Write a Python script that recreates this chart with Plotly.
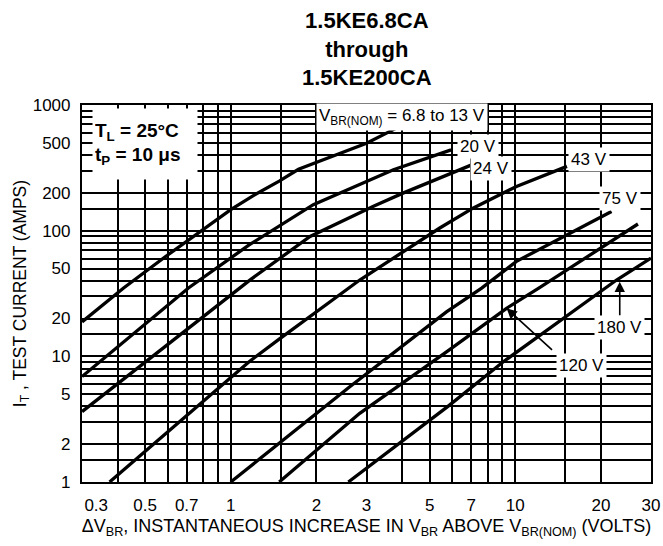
import math
import plotly.graph_objects as go

# ---------------- data ----------------
# Delta V_BR (volts) and test current I_T (amps) for each V_BR(NOM) family
dv_6p8_13 = [0.3, 0.42, 0.6, 1.0, 1.2, 1.48, 1.73, 3.0, 3.93]
it_6p8_13 = [18.8, 35, 64, 147, 190, 248, 308, 497, 676]

dv_20 = [0.3, 0.71, 1.16, 1.95, 3.73, 5.95]
it_20 = [6.9, 35, 77, 161, 305, 440]

dv_24 = [0.3, 1.17, 1.9, 3.16, 4.03, 5.89, 7.03]
it_24 = [3.63, 40.6, 90, 156, 199, 282, 334]

dv_43 = [0.375, 1.16, 1.48, 2.0, 2.84, 5.43, 7.1, 10.1, 15.2]
it_43 = [1, 9.06, 13.7, 22.6, 40.5, 105, 151, 225, 325]

dv_75 = [1.0, 2.62, 5.73, 7.62, 10.1, 21.8]
it_75 = [1, 5.73, 22.6, 34.9, 57, 142]

dv_120 = [1.48, 2.84, 5.75, 9.32, 12.1, 27]
it_120 = [1, 3.52, 10.9, 24.1, 34.9, 113]

dv_180 = [2.59, 5.8, 9.08, 15, 22.7, 30]
it_180 = [1, 4.0, 9.06, 20.7, 40.5, 60.5]

series_labels = ["6.8 to 13 V", "20 V", "24 V", "43 V", "75 V", "120 V", "180 V"]

# grid / tick values
x_major = [0.3, 0.5, 0.7, 1, 2, 3, 5, 7, 10, 20, 30]
x_major_text = ["\u00a0\u00a0\u00a0\u00a0\u00a0\u00a00.3", "0.5", "0.7", "1", "2", "3",
                "5", "7", "10", "20", "30"]
x_minor = [0.4, 0.6, 0.8, 0.9, 1.5, 4, 6, 8, 9, 15]
y_major = [1, 2, 5, 10, 20, 50, 100, 200, 500, 1000]
y_major_text = ["1", "2", "5", "10", "20", "50", "100", "200", "500", "1000"]
y_minor = [1.5, 3, 4, 6, 7, 8, 9, 15, 30, 40, 60, 70, 80, 90,
           150, 300, 400, 600, 700, 800, 900]

# ---------------- figure ----------------
FONT = "Liberation Sans, Arial, Helvetica, sans-serif"
fig = go.Figure()

curves = [(dv_6p8_13, it_6p8_13), (dv_20, it_20), (dv_24, it_24), (dv_43, it_43),
          (dv_75, it_75), (dv_120, it_120), (dv_180, it_180)]
for (xs, ys), name in zip(curves, series_labels):
    fig.add_trace(go.Scatter(x=xs, y=ys, mode="lines", name=name,
                             line=dict(color="black", width=3.3),
                             showlegend=False, hoverinfo="x+y+name"))

GRID_C, GRID_W = "#000", 1.5
EPS = 1e-4
axis_common = dict(
    type="log", showgrid=True, gridcolor=GRID_C, gridwidth=GRID_W,
    showline=True, linecolor="black", linewidth=2.2, mirror=True,
    ticks="", zeroline=False, tickmode="array", ticklabeloverflow="allow",
    tickfont=dict(family=FONT, size=17, color="black"),
)

fig.update_xaxes(
    **axis_common,
    range=[math.log10(0.3) - EPS, math.log10(30) + EPS],
    tickvals=x_major, ticktext=x_major_text,
    minor=dict(tickmode="array", tickvals=x_minor, showgrid=True,
               gridcolor=GRID_C, gridwidth=GRID_W, ticks=""),
    ticklabelstandoff=6,
    title=dict(text="\u0394V<sub>BR</sub>, INSTANTANEOUS INCREASE IN V<sub>BR</sub> ABOVE V<sub>BR(NOM)</sub> (VOLTS)",
               font=dict(family=FONT, size=18, color="black"), standoff=6),
)
fig.update_yaxes(
    **axis_common,
    range=[0 - EPS, 3 + EPS],
    tickvals=y_major, ticktext=y_major_text,
    minor=dict(tickmode="array", tickvals=y_minor, showgrid=True,
               gridcolor=GRID_C, gridwidth=GRID_W, ticks=""),
    ticklabelstandoff=6,
    title=dict(text="I<sub>T</sub> , TEST CURRENT (AMPS)",
               font=dict(family=FONT, size=17.5, color="black"), standoff=2),
)

W, H = 663, 546
L, R, T, B = 82, 12, 105, 64
PW, PH = W - L - R, H - T - B


def px_to_paper(px, py):
    return (px - L) / PW, (H - B - py) / PH


annotations = []
label_font = dict(family=FONT, size=17, color="black")

# title (three bold lines)
tx, ty = px_to_paper(366.5, 6)
annotations.append(dict(xref="paper", yref="paper", x=tx, y=ty, xanchor="center", yanchor="top",
                        showarrow=False,
                        text="<b>1.5KE6.8CA</b><br><b>through</b><br><b>1.5KE200CA</b>",
                        font=dict(family=FONT, size=22, color="black")))

# condition box
bx, by = px_to_paper(145, 144)
annotations.append(dict(xref="paper", yref="paper", x=bx, y=by, xanchor="center", yanchor="middle",
                        showarrow=False,
                        text="<b>T<sub>L</sub> = 25\u00b0C</b><br><b>t<sub>P</sub> = 10 \u03bcs</b>",
                        align="left", bgcolor="white", width=100, height=66, borderpad=2,
                        font=dict(family=FONT, size=19, color="black")))

# series labels
label_pos = [
    ("V<sub>BR(NOM)</sub> = 6.8 to 13 V", 402, 117),
    ("20 V", 478, 146),
    ("24 V", 491, 168.5),
    ("43 V", 589, 159),
    ("75 V", 620, 198),
    ("180 V", 619, 327),
    ("120 V", 581, 365),
]
for txt, px, py in label_pos:
    ax_, ay_ = px_to_paper(px, py)
    annotations.append(dict(xref="paper", yref="paper", x=ax_, y=ay_,
                            xanchor="center", yanchor="middle", showarrow=False,
                            text=txt, bgcolor="white", borderpad=2, font=label_font))

# arrows pointing to the 120 V and 180 V curves (tips on the curves)
annotations.append(dict(xref="x", yref="y", x=math.log10(dv_120[3]), y=math.log10(it_120[3]),
                        text="", showarrow=True, ax=47, ay=43, axref="pixel", ayref="pixel",
                        arrowhead=2, arrowsize=1.3, arrowwidth=1.6, arrowcolor="black", standoff=0))
annotations.append(dict(xref="x", yref="y", x=math.log10(23.3), y=math.log10(39.3),
                        text="", showarrow=True, ax=0, ay=35, axref="pixel", ayref="pixel",
                        arrowhead=2, arrowsize=1.3, arrowwidth=1.6, arrowcolor="black", standoff=0))

fig.update_layout(
    width=W, height=H,
    margin=dict(l=L, r=R, t=T, b=B, autoexpand=False),
    paper_bgcolor="white", plot_bgcolor="white",
    font=dict(family=FONT, color="black"),
    annotations=annotations,
    showlegend=False,
)

fig.write_html("out.html", config={"displayModeBar": False},
               post_script="document.body.style.margin='0';document.body.style.overflow='hidden';")
